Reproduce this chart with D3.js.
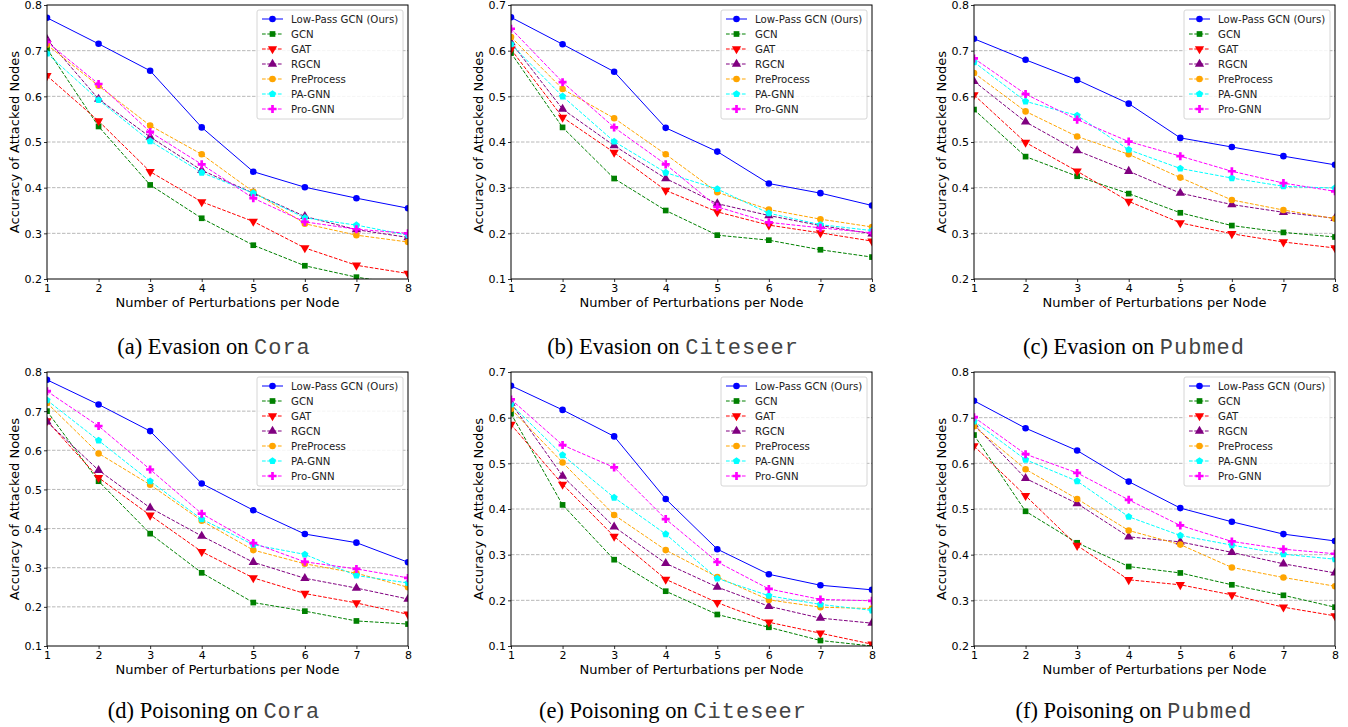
<!DOCTYPE html>
<html>
<head>
<meta charset="utf-8">
<script src="https://cdn.jsdelivr.net/npm/d3@7"></script>
<style>
  html, body { margin: 0; padding: 0; background: #fff; }
  svg { display: block; }
</style>
</head>
<body>
<svg id="chart" width="1348" height="727"></svg>
<script>
// ---------- data ----------
const perturbations = [1, 2, 3, 4, 5, 6, 7, 8];
const seriesNames = ["Low-Pass GCN (Ours)", "GCN", "GAT", "RGCN", "PreProcess", "PA-GNN", "Pro-GNN"];
const seriesColors = ["#0000ff", "#008000", "#ff0000", "#800080", "#ffa500", "#00ffff", "#ff00ff"];
const seriesMarkers = ["circle", "square", "triDown", "triUp", "circle", "pentagon", "plus"];

// (a) Evasion on Cora
const evasionCora = [
  [0.772, 0.715, 0.656, 0.532, 0.435, 0.401, 0.377, 0.355],
  [0.704, 0.534, 0.406, 0.333, 0.274, 0.229, 0.204, 0.187],
  [0.645, 0.546, 0.435, 0.369, 0.326, 0.268, 0.230, 0.212],
  [0.725, 0.594, 0.511, 0.438, 0.388, 0.337, 0.308, 0.291],
  [0.713, 0.623, 0.536, 0.473, 0.391, 0.321, 0.296, 0.281],
  [0.694, 0.592, 0.502, 0.433, 0.388, 0.334, 0.318, 0.296],
  [0.719, 0.627, 0.522, 0.451, 0.377, 0.325, 0.309, 0.300]
];
// (b) Evasion on Citeseer
const evasionCiteseer = [
  [0.673, 0.614, 0.554, 0.431, 0.379, 0.309, 0.288, 0.261],
  [0.595, 0.432, 0.320, 0.250, 0.196, 0.185, 0.164, 0.148],
  [0.603, 0.454, 0.377, 0.294, 0.247, 0.218, 0.201, 0.183],
  [0.618, 0.472, 0.392, 0.320, 0.265, 0.239, 0.217, 0.199],
  [0.630, 0.516, 0.452, 0.373, 0.290, 0.252, 0.231, 0.214],
  [0.614, 0.500, 0.401, 0.333, 0.297, 0.244, 0.219, 0.206],
  [0.648, 0.531, 0.432, 0.351, 0.258, 0.224, 0.212, 0.201]
];
// (c) Evasion on Pubmed
const evasionPubmed = [
  [0.726, 0.680, 0.636, 0.584, 0.509, 0.489, 0.469, 0.450],
  [0.571, 0.468, 0.425, 0.387, 0.345, 0.317, 0.302, 0.292],
  [0.603, 0.499, 0.436, 0.370, 0.323, 0.299, 0.281, 0.268],
  [0.633, 0.544, 0.481, 0.436, 0.388, 0.363, 0.346, 0.333],
  [0.651, 0.567, 0.512, 0.473, 0.422, 0.373, 0.351, 0.332],
  [0.675, 0.589, 0.558, 0.483, 0.442, 0.421, 0.403, 0.399],
  [0.683, 0.605, 0.549, 0.501, 0.469, 0.436, 0.410, 0.392]
];
// (d) Poisoning on Cora
const poisoningCora = [
  [0.780, 0.717, 0.649, 0.515, 0.447, 0.386, 0.364, 0.314],
  [0.700, 0.521, 0.387, 0.287, 0.211, 0.189, 0.164, 0.156],
  [0.675, 0.530, 0.434, 0.341, 0.274, 0.234, 0.210, 0.181],
  [0.673, 0.549, 0.453, 0.381, 0.314, 0.273, 0.248, 0.220],
  [0.721, 0.592, 0.512, 0.420, 0.345, 0.310, 0.286, 0.250],
  [0.728, 0.625, 0.521, 0.424, 0.359, 0.334, 0.280, 0.261],
  [0.751, 0.662, 0.551, 0.438, 0.363, 0.315, 0.297, 0.274]
];
// (e) Poisoning on Citeseer
const poisoningCiteseer = [
  [0.670, 0.617, 0.559, 0.422, 0.312, 0.257, 0.233, 0.223],
  [0.609, 0.409, 0.289, 0.220, 0.169, 0.141, 0.112, 0.100],
  [0.585, 0.454, 0.340, 0.246, 0.195, 0.152, 0.128, 0.104],
  [0.632, 0.472, 0.361, 0.281, 0.229, 0.187, 0.161, 0.150],
  [0.619, 0.502, 0.387, 0.310, 0.251, 0.201, 0.185, 0.182],
  [0.629, 0.518, 0.425, 0.345, 0.248, 0.210, 0.191, 0.178],
  [0.640, 0.540, 0.491, 0.378, 0.284, 0.225, 0.202, 0.199]
];
// (f) Poisoning on Pubmed
const poisoningPubmed = [
  [0.737, 0.677, 0.628, 0.560, 0.502, 0.472, 0.445, 0.430],
  [0.662, 0.495, 0.426, 0.374, 0.360, 0.334, 0.311, 0.285],
  [0.638, 0.529, 0.420, 0.345, 0.334, 0.312, 0.285, 0.266],
  [0.685, 0.567, 0.512, 0.439, 0.428, 0.405, 0.380, 0.360],
  [0.681, 0.587, 0.522, 0.453, 0.422, 0.372, 0.350, 0.331],
  [0.692, 0.608, 0.561, 0.483, 0.442, 0.421, 0.401, 0.390],
  [0.701, 0.620, 0.579, 0.520, 0.464, 0.429, 0.412, 0.402]
];

const panelLetters = ["(a) Evasion on ", "(b) Evasion on ", "(c) Evasion on ", "(d) Poisoning on ", "(e) Poisoning on ", "(f) Poisoning on "];
const panelDatasets = ["Cora", "Citeseer", "Pubmed", "Cora", "Citeseer", "Pubmed"];
const panelData = [evasionCora, evasionCiteseer, evasionPubmed, poisoningCora, poisoningCiteseer, poisoningPubmed];
const panelYDomains = [[0.2, 0.8], [0.1, 0.7], [0.2, 0.8], [0.1, 0.8], [0.1, 0.7], [0.2, 0.8]];
const xLabel = "Number of Perturbations per Node";
const yLabel = "Accuracy of Attacked Nodes";

// ---------- layout ----------
const colLefts = [47, 511, 974];
const rowTops = [5, 372];
const plotW = 361, plotH = 274;
const captionCenters = [214, 673, 1134];
const captionBaselines = [354, 718];

const svg = d3.select("#chart");
const sansFont = "DejaVu Sans, sans-serif";

function markerPath(kind, size) {
  if (kind === "circle") return d3.symbol(d3.symbolCircle, size)();
  if (kind === "square") return d3.symbol(d3.symbolSquare, size * 0.95)();
  if (kind === "triUp") return d3.symbol(d3.symbolTriangle, size * 1.1)();
  if (kind === "triDown") return d3.symbol(d3.symbolTriangle, size * 1.1)();
  if (kind === "plus") return d3.symbol(d3.symbolCross, size * 1.05)();
  if (kind === "pentagon") {
    const r = Math.sqrt(size / 2.38);
    const pts = d3.range(5).map(i => {
      const a = -Math.PI / 2 + i * 2 * Math.PI / 5;
      return [r * Math.cos(a), r * Math.sin(a)];
    });
    return "M" + pts.map(p => p.join(",")).join("L") + "Z";
  }
}
function markerTransform(kind, x, y) {
  return kind === "triDown" ? `translate(${x},${y}) rotate(180)` : `translate(${x},${y})`;
}

panelData.forEach((data, pi) => {
  const col = pi % 3, row = Math.floor(pi / 3);
  const left = colLefts[col], top = rowTops[row];
  const g = svg.append("g").attr("transform", `translate(${left},${top})`);

  const x = d3.scaleLinear().domain([1, 8]).range([0, plotW]);
  const y = d3.scaleLinear().domain(panelYDomains[pi]).range([plotH, 0]);
  const [y0, y1] = panelYDomains[pi];
  const yTicks = d3.range(Math.round((y1 - y0) / 0.1) + 1).map(i => +(y0 + i * 0.1).toFixed(1));

  // grid
  g.append("g").selectAll("line").data(yTicks.slice(1, -1)).join("line")
    .attr("x1", 0).attr("x2", plotW)
    .attr("y1", d => y(d)).attr("y2", d => y(d))
    .attr("stroke", "#b0b0b0").attr("stroke-width", 0.9)
    .attr("stroke-dasharray", "3.5,1.5");

  // clip
  const clipId = "clip" + pi;
  g.append("clipPath").attr("id", clipId).append("rect")
    .attr("x", 0).attr("y", 0).attr("width", plotW).attr("height", plotH);

  const plotG = g.append("g").attr("clip-path", `url(#${clipId})`);
  const line = d3.line().x((d, i) => x(perturbations[i])).y(d => y(d));

  data.forEach((vals, si) => {
    plotG.append("path").attr("d", line(vals))
      .attr("fill", "none").attr("stroke", seriesColors[si])
      .attr("stroke-width", 1)
      .attr("stroke-dasharray", si === 0 ? null : "3.7,1.6");
  });
  data.forEach((vals, si) => {
    plotG.append("g").selectAll("path").data(vals).join("path")
      .attr("d", markerPath(seriesMarkers[si], 34))
      .attr("transform", (d, i) => markerTransform(seriesMarkers[si], x(perturbations[i]), y(d)))
      .attr("fill", seriesColors[si]);
  });

  // axes
  const xAxis = d3.axisBottom(x).tickValues(perturbations).tickSize(3).tickPadding(2).tickFormat(d3.format("d"));
  const yAxis = d3.axisLeft(y).tickValues(yTicks).tickSize(3).tickPadding(2).tickFormat(d3.format(".1f"));
  const gx = g.append("g").attr("transform", `translate(0,${plotH})`).call(xAxis);
  const gy = g.append("g").call(yAxis);
  [gx, gy].forEach(a => {
    a.select(".domain").remove();
    a.selectAll("text").attr("font-family", sansFont).attr("font-size", 11).attr("fill", "#000");
    a.selectAll("line").attr("stroke", "#000").attr("stroke-width", 0.8);
  });
  gy.selectAll("text").attr("dy", "0.35em");

  // frame
  g.append("rect").attr("x", 0).attr("y", 0).attr("width", plotW).attr("height", plotH)
    .attr("fill", "none").attr("stroke", "#000").attr("stroke-width", 1);

  // axis labels
  g.append("text").attr("x", plotW / 2).attr("y", plotH + 28)
    .attr("text-anchor", "middle").attr("font-family", sansFont).attr("font-size", 13)
    .text(xLabel);
  g.append("text").attr("transform", `translate(-33,${plotH / 2}) rotate(-90)`)
    .attr("text-anchor", "middle").attr("dy", "0.35em")
    .attr("font-family", sansFont).attr("font-size", 13)
    .text(yLabel);

  // legend
  const lw = 146, lh = 109;
  const lg = g.append("g").attr("transform", `translate(${plotW - 5 - lw},5)`);
  lg.append("rect").attr("width", lw).attr("height", lh).attr("rx", 2)
    .attr("fill", "#fff").attr("fill-opacity", 0.85)
    .attr("stroke", "#cccccc").attr("stroke-width", 0.8);
  seriesNames.forEach((name, si) => {
    const cy = 9 + 15 * si;
    lg.append("line").attr("x1", 5).attr("x2", 26).attr("y1", cy).attr("y2", cy)
      .attr("stroke", seriesColors[si]).attr("stroke-width", 1)
      .attr("stroke-dasharray", si === 0 ? null : "3.7,1.6");
    lg.append("path").attr("d", markerPath(seriesMarkers[si], 34))
      .attr("transform", markerTransform(seriesMarkers[si], 15.5, cy))
      .attr("fill", seriesColors[si]);
    lg.append("text").attr("x", 34).attr("y", cy).attr("dy", "0.36em")
      .attr("font-family", sansFont).attr("font-size", 10.2).attr("fill", "#222")
      .text(name);
  });

  // caption
  const cap = svg.append("text")
    .attr("x", captionCenters[col]).attr("y", captionBaselines[row])
    .attr("text-anchor", "middle").attr("fill", "#000");
  cap.append("tspan").attr("font-family", "Liberation Serif, Times New Roman, serif")
    .attr("font-size", 22.5).text(panelLetters[pi]);
  cap.append("tspan").attr("font-family", "Liberation Mono, Courier New, monospace")
    .attr("font-size", 22).attr("letter-spacing", 1).attr("fill", "#444").text(panelDatasets[pi]);
});
</script>
</body>
</html>
